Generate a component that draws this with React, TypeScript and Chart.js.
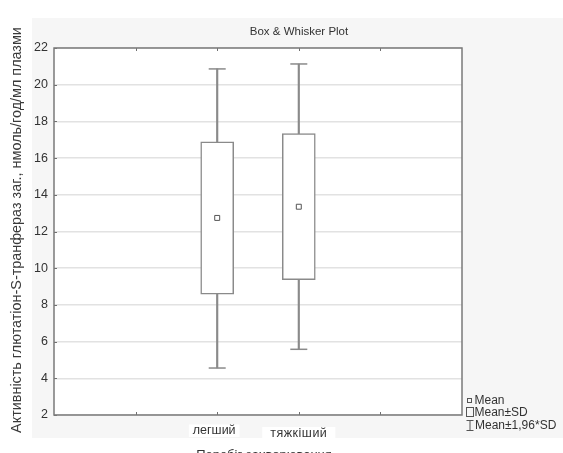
import React, { useEffect, useRef } from "react";
import { Chart, registerables } from "chart.js";

Chart.register(...registerables);

// ---- data ----
const categories = ["легший", "тяжкіший"];
const categoryX = [2, 3];
const means = [12.74, 13.35];
const sdLow = [8.59, 9.37];
const sdHigh = [16.89, 17.33];
const ciLow = [4.56, 5.58];
const ciHigh = [20.86, 21.13];
const xTickMarks = [1, 2, 3, 4];
const yMin = 2;
const yMax = 22;
const yStep = 2;
const chartTitle = "Box & Whisker Plot";
const yTitle = "Активність глютатіон-S-транфераз заг., нмоль/год/мл плазми";
const xTitle = "Перебіг захворювання";
const legendItems = ["Mean", "Mean±SD", "Mean±1,96*SD"];

const FONT = '"Liberation Sans", Arial, sans-serif';
const BOX_COLOR = "#8a8a8a";
const DARK = "#555555";
const TEXT = "#333333";

const labelStyle = [
  { dx: -3, y: 431, spacing: 0, pad: 4 },
  { dx: 0, y: 433.5, spacing: 0.5, pad: 8 },
];

const decorPlugin = {
  id: "decor",
  beforeDraw(chart: any) {
    const { ctx, chartArea: a, width, height } = chart;
    ctx.save();
    ctx.fillStyle = "#ffffff";
    ctx.fillRect(0, 0, width, height);
    ctx.fillStyle = "#f6f6f6";
    ctx.fillRect(32, 18, width - 32, 420);
    ctx.fillStyle = "#ffffff";
    ctx.fillRect(a.left, a.top, a.right - a.left, a.bottom - a.top);
    ctx.restore();
  },
  afterDraw(chart: any) {
    const { ctx, chartArea: a } = chart;
    const xs = chart.scales.x;
    const ys = chart.scales.y;
    ctx.save();
    // inner tick marks
    ctx.strokeStyle = "#707070";
    ctx.lineWidth = 1;
    ctx.beginPath();
    for (let v = yMin; v <= yMax; v += yStep) {
      const y = Math.round(ys.getPixelForValue(v)) + 0.5;
      ctx.moveTo(a.left, y);
      ctx.lineTo(a.left + 3, y);
    }
    for (const t of xTickMarks) {
      const x = Math.round(xs.getPixelForValue(t)) + 0.5;
      ctx.moveTo(x, a.bottom);
      ctx.lineTo(x, a.bottom - 3);
      ctx.moveTo(x, a.top);
      ctx.lineTo(x, a.top + 3);
    }
    ctx.stroke();
    // frame
    ctx.strokeStyle = "#7a7a7a";
    ctx.lineWidth = 1.5;
    ctx.strokeRect(a.left, a.top, a.right - a.left, a.bottom - a.top);

    // category labels with white backing
    ctx.font = `12.5px ${FONT}`;
    ctx.textAlign = "center";
    ctx.textBaseline = "middle";
    categories.forEach((c, i) => {
      const st = labelStyle[i];
      (ctx as any).letterSpacing = `${st.spacing}px`;
      const x = xs.getPixelForValue(categoryX[i]) + st.dx;
      const y = st.y;
      const w = ctx.measureText(c).width + st.pad * 2;
      ctx.fillStyle = "#ffffff";
      ctx.fillRect(x - w / 2, y - 6.5, w, 12.5);
      ctx.fillStyle = TEXT;
      ctx.fillText(c, x, y);
    });
    (ctx as any).letterSpacing = "0px";

    // x title (cut by bottom edge)
    ctx.font = `13px ${FONT}`;
    ctx.textBaseline = "alphabetic";
    ctx.fillStyle = TEXT;
    ctx.fillText(xTitle, 264, 459);

    // chart title
    ctx.font = `11.5px ${FONT}`;
    ctx.textBaseline = "middle";
    ctx.fillText(chartTitle, 299, 32);

    // y title
    ctx.save();
    ctx.translate(17.5, 230);
    ctx.rotate(-Math.PI / 2);
    ctx.font = `14.4px ${FONT}`;
    ctx.fillStyle = "#3a3a3a";
    ctx.textAlign = "center";
    ctx.textBaseline = "middle";
    ctx.fillText(yTitle, 0, 0);
    ctx.restore();

    // legend
    ctx.strokeStyle = DARK;
    ctx.lineWidth = 1;
    ctx.strokeRect(467.5, 398.5, 4, 4);
    ctx.strokeRect(466.5, 407.5, 7, 9);
    ctx.beginPath();
    ctx.moveTo(470, 420.5);
    ctx.lineTo(470, 430.5);
    ctx.moveTo(466.5, 420.5);
    ctx.lineTo(473.5, 420.5);
    ctx.moveTo(466.5, 430.5);
    ctx.lineTo(473.5, 430.5);
    ctx.stroke();
    ctx.font = `12px ${FONT}`;
    ctx.textAlign = "left";
    ctx.textBaseline = "middle";
    ctx.fillStyle = TEXT;
    ctx.fillText(legendItems[0], 474.5, 400.5);
    ctx.fillText(legendItems[1], 474.5, 413);
    ctx.fillText(legendItems[2], 475, 426);
    ctx.restore();
  },
};

export default function App() {
  const ref = useRef<HTMLCanvasElement | null>(null);
  useEffect(() => {
    if (!ref.current) return;
    const capData: { x: number; y: number }[] = [];
    categoryX.forEach((x, i) => {
      capData.push({ x, y: ciHigh[i] });
      capData.push({ x, y: ciLow[i] });
    });
    const chart = new Chart(ref.current, {
      type: "bar",
      data: {
        datasets: [
          {
            type: "line",
            label: "Mean",
            data: categoryX.map((x, i) => ({ x, y: means[i] })),
            showLine: false,
            pointStyle: "rect",
            pointRadius: 3.5,
            pointBackgroundColor: "#ffffff",
            pointBorderColor: DARK,
            pointBorderWidth: 1,
            order: 0,
          } as any,
          {
            type: "line",
            label: "caps",
            data: capData,
            showLine: false,
            pointStyle: "line",
            pointRadius: 8.5,
            pointBorderColor: BOX_COLOR,
            pointBorderWidth: 1.5,
            order: 1,
          } as any,
          {
            type: "bar",
            label: "Mean±SD",
            data: categoryX.map((x, i) => ({ x, y: [sdLow[i], sdHigh[i]] })),
            backgroundColor: "#ffffff",
            borderColor: BOX_COLOR,
            borderWidth: 1.5,
            borderSkipped: false,
            barThickness: 33,
            grouped: false,
            order: 2,
          } as any,
          {
            type: "bar",
            label: "Mean±1,96*SD",
            data: categoryX.map((x, i) => ({ x, y: [ciLow[i], ciHigh[i]] })),
            backgroundColor: BOX_COLOR,
            borderWidth: 0,
            barThickness: 1.5,
            grouped: false,
            order: 3,
          } as any,
        ],
      },
      options: {
        responsive: false,
        animation: false,
        events: [],
        layout: { padding: { left: 0, top: 48, right: 101, bottom: 38 } },
        plugins: {
          legend: { display: false },
          tooltip: { enabled: false },
          title: { display: false },
        },
        scales: {
          x: { type: "linear", min: 0, max: 5, display: false, offset: false },
          y: {
            type: "linear",
            min: yMin,
            max: yMax,
            beginAtZero: false,
            ticks: {
              stepSize: yStep,
              color: TEXT,
              font: { family: FONT, size: 12.5 },
              padding: 6,
            },
            grid: { color: "#e2e2e2", lineWidth: 1.5, drawTicks: false },
            border: { display: false },
            afterFit: (s: any) => {
              s.width = 54;
            },
          },
        },
      } as any,
      plugins: [decorPlugin],
    });
    return () => chart.destroy();
  }, []);
  return (
    <div style={{ position: "fixed", left: 0, top: 0, width: 563, height: 453, background: "#fff" }}>
      <canvas ref={ref} width={563} height={453} style={{ display: "block" }} />
    </div>
  );
}
